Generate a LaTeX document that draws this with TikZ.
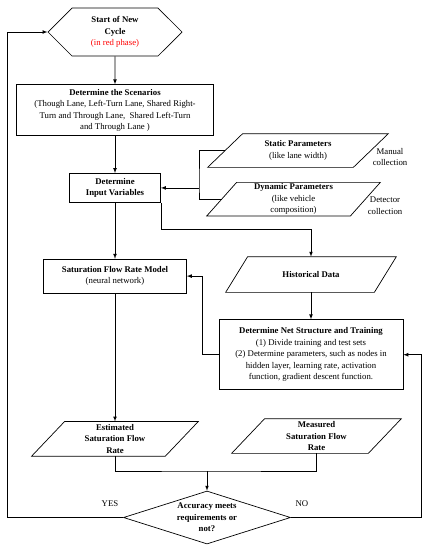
\documentclass[tikz,border=0pt]{standalone}
\usepackage{fontspec}
\setmainfont{Liberation Serif}
\usetikzlibrary{shapes, arrows, positioning}

\begin{document}
\begin{tikzpicture}[x=1pt, y=1pt, >=latex, line width=0.7pt,
        font=\fontsize{8.75}{11.5}\selectfont,
        proc/.style={draw, rectangle, align=center, inner sep=1pt},
        io/.style={rectangle, align=center, inner sep=0.5pt,
            append after command={\pgfextra{\draw ([xshift=-#1]\tikzlastnode.south west)
                -- ([xshift=#1]\tikzlastnode.north west) -- ([xshift=#1]\tikzlastnode.north east)
                -- ([xshift=-#1]\tikzlastnode.south east) -- cycle;}}},
        io/.default=16pt]
        \useasboundingbox (0,0) rectangle (431,-550);

        \node (start) [draw, signal, signal to=west and east, signal pointer angle=90,
            minimum width=134pt, minimum height=48pt, align=center, inner sep=1pt] at (115,-32)
            {\textbf{Start of New}\\\textbf{Cycle}\\\textcolor{red}{(in red phase)}};
        \node (scen) [proc, below=28pt of start, minimum width=197pt, minimum height=51pt]
            {\textbf{Determine the Scenarios}\\(Though Lane, Left-Turn Lane, Shared Right-\\Turn and Through Lane,~ Shared Left-Turn\\and Through Lane )};
        \node (input) [proc, below=37pt of scen, minimum width=91pt, minimum height=29pt]
            {\textbf{Determine}\\\textbf{Input Variables}};
        \node (sfr) [proc, below=56pt of input, minimum width=143pt, minimum height=34pt]
            {\textbf{Saturation Flow Rate Model}\\(neural network)};
        \node (est) [io=16.5pt, below=128pt of sfr, minimum width=133pt, minimum height=34pt]
            {\textbf{Estimated}\\\textbf{Saturation Flow}\\\textbf{Rate}};

        \node (static) [io=17.5pt, minimum width=145pt, minimum height=33pt] at (298,-150.5)
            {\textbf{Static Parameters}\\(like lane width)};
        \node (dynamic) [io=15pt, below=15pt of static, xshift=-4.5pt, minimum width=143pt, minimum height=33pt]
            {\textbf{Dynamic Parameters}\\(like vehicle\\composition)};
        \node (manual) [align=center] at (390,-157) {Manual\\collection};
        \node (detector) [align=center] at (385,-205.5) {Detector\\collection};

        \node (hist) [io=11pt, minimum width=148pt, minimum height=35pt] at (311,-274.5)
            {\textbf{Historical Data}};
        \node (net) [proc, below=27pt of hist, minimum width=184pt, minimum height=70pt]
            {\textbf{Determine Net Structure and Training}\\(1) Divide training and test sets\\(2) Determine parameters, such as nodes in\\hidden layer, learning rate, activation\\function, gradient descent function.};
        \node (meas) [io=16.5pt, minimum width=136pt, minimum height=34pt] at (316.5,-436)
            {\textbf{Measured}\\\textbf{Saturation Flow}\\\textbf{Rate}};

        \node (dec) [draw, diamond, aspect=3.15, minimum width=167pt, minimum height=53pt,
            inner sep=0pt, align=center] at (207,-517.5)
            {\textbf{Accuracy meets}\\\textbf{requirements or}\\\textbf{not?}};
        \node (yes) at (110,-504) {YES};
        \node (no) at (302,-504) {NO};

        % main column
        \draw[->] (start) -- (scen);
        \draw[->] (scen) -- (input);
        \draw[->] (input) -- (sfr);
        \draw[->] (sfr) -- (est);

        % parameters into input variables
        \coordinate (bus) at (199,-186.5);
        \draw (static.west) -| (bus) |- (dynamic.west);
        \draw[->] (bus |- input.east) -- (input.east);

        % training branch
        \draw[->] (input.south east) -- ++(0,-27pt) -| (hist.north);
        \draw[->] (hist) -- (net);
        \draw[->] (net.west) -- ++(-16pt,0) |- (sfr.east);

        % comparison
        \coordinate (merge) at (207,-471);
        \draw (est.south) |- (merge) -| (meas.south);
        \draw[->] (merge) -- (dec.north);

        % loops back
        \draw[->] (dec.west) -- ++(-116pt,0) |- (start.west);
        \draw[->] (dec.east) -- ++(130pt,0) |- (net.east);
    \end{tikzpicture}
\end{document}
